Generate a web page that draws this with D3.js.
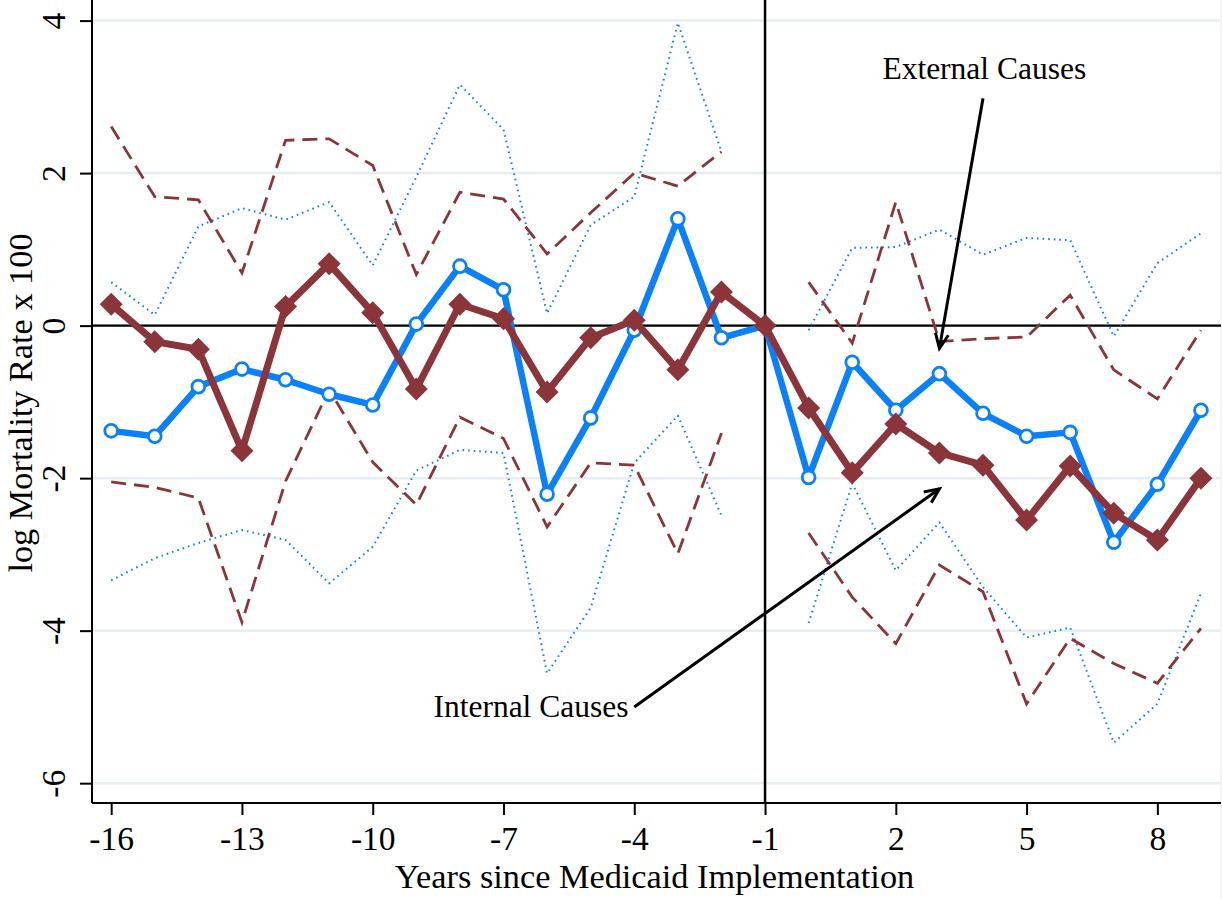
<!DOCTYPE html>
<html>
<head>
<meta charset="utf-8">
<script src="https://cdn.jsdelivr.net/npm/d3@7"></script>
<style>
  html, body { margin: 0; padding: 0; background: #ffffff; }
  svg { display: block; }
  text { font-family: "Liberation Serif", "Times New Roman", serif; fill: #000; }
</style>
</head>
<body>
<svg id="chart" width="1222" height="899"></svg>
<script>
// Event-study estimates by years since Medicaid implementation (reference year = -1)
const years = [-16, -15, -14, -13, -12, -11, -10, -9, -8, -7, -6, -5, -4, -3, -2, -1,
               0, 1, 2, 3, 4, 5, 6, 7, 8, 9];

// External causes: point estimates and 95% bounds (no bounds at the reference year)
const externalEst = [-1.38, -1.45, -0.80, -0.57, -0.71, -0.90, -1.04, 0.02, 0.78, 0.47, -2.21, -1.21, -0.06, 1.40, -0.16, 0,
                     -1.99, -0.48, -1.11, -0.63, -1.15, -1.45, -1.40, -2.84, -2.08, -1.11];
const externalHi = [0.57, 0.14, 1.30, 1.54, 1.39, 1.62, 0.79, 1.95, 3.16, 2.57, 0.16, 1.32, 1.69, 3.97, 2.28, null,
                    -0.06, 1.02, 1.03, 1.26, 0.93, 1.15, 1.12, -0.14, 0.82, 1.21];
const externalLo = [-3.34, -3.05, -2.85, -2.68, -2.81, -3.38, -2.90, -1.90, -1.63, -1.67, -4.56, -3.70, -1.80, -1.18, -2.49, null,
                    -3.90, -2.07, -3.21, -2.58, -3.43, -4.09, -3.96, -5.47, -4.96, -3.51];

// Internal causes: point estimates and 95% bounds
const internalEst = [0.28, -0.21, -0.31, -1.64, 0.25, 0.81, 0.17, -0.83, 0.28, 0.09, -0.87, -0.16, 0.07, -0.58, 0.44, 0,
                     -1.08, -1.93, -1.29, -1.67, -1.83, -2.55, -1.84, -2.46, -2.81, -2.00];
const internalHi = [2.61, 1.69, 1.65, 0.69, 2.43, 2.45, 2.10, 0.67, 1.75, 1.66, 0.94, 1.48, 2.00, 1.83, 2.28, null,
                    0.57, -0.23, 1.62, -0.21, -0.17, -0.15, 0.40, -0.58, -0.96, -0.06];
const internalLo = [-2.05, -2.12, -2.26, -3.89, -2.04, -0.84, -1.79, -2.35, -1.20, -1.48, -2.64, -1.80, -1.83, -2.99, -1.41, null,
                    -2.72, -3.56, -4.17, -3.14, -3.49, -4.96, -4.10, -4.43, -4.69, -3.97];

// Axis ticks and titles
const xTicks = [-16, -13, -10, -7, -4, -1, 2, 5, 8];
const yTicks = [-6, -4, -2, 0, 2, 4];
const xTitle = "Years since Medicaid Implementation";
const yTitle = "log Mortality Rate x 100";

// Annotations: label text, label anchor, arrow start and arrow target (data units)
const notes = [
  { text: "External Causes", at: [4.03, 3.234], from: [4.0, 2.98], to: [3.0, -0.30] },
  { text: "Internal Causes", at: [-6.37, -5.132], from: [-4.0, -5.0], to: [3.0, -2.14] }
];

const blue = "#0a80fa";
const maroon = "#8b353b";

const svg = d3.select("#chart");
const plot = { left: 92, right: 1221, top: 0, bottom: 803 };

const x = d3.scaleLinear().domain([-16.44, 9.46]).range([plot.left, plot.right]);
const y = d3.scaleLinear().domain([-6.26, 4.27]).range([plot.bottom, plot.top]);

// Horizontal grid lines
svg.append("g")
  .selectAll("line")
  .data(yTicks)
  .join("line")
  .attr("x1", plot.left).attr("x2", plot.right)
  .attr("y1", d => y(d)).attr("y2", d => y(d))
  .attr("stroke", "#e6eef1")
  .attr("stroke-width", 2.5);

// Light frame on the right edge
svg.append("line")
  .attr("x1", plot.right).attr("x2", plot.right)
  .attr("y1", 0).attr("y2", 899)
  .attr("stroke", "#eef2f4").attr("stroke-width", 1.5);

// Reference lines at zero and at the year before implementation
svg.append("line")
  .attr("x1", plot.left).attr("x2", plot.right)
  .attr("y1", y(0)).attr("y2", y(0))
  .attr("stroke", "#000").attr("stroke-width", 2.3);
svg.append("line")
  .attr("x1", x(-1)).attr("x2", x(-1))
  .attr("y1", plot.top).attr("y2", plot.bottom)
  .attr("stroke", "#000").attr("stroke-width", 2.5);

const band = vals => d3.line()
  .defined((d, i) => vals[i] !== null)
  .x((d, i) => x(years[i]))
  .y((d, i) => y(vals[i]))(years);

const path = vals => d3.line()
  .x((d, i) => x(years[i]))
  .y((d, i) => y(vals[i]))(years);

// Confidence bounds
[externalHi, externalLo].forEach(v => {
  svg.append("path")
    .attr("d", band(v))
    .attr("fill", "none")
    .attr("stroke", blue)
    .attr("stroke-width", 2)
    .attr("stroke-dasharray", "1.6,4")
    .attr("stroke-linejoin", "round");
});
[internalHi, internalLo].forEach(v => {
  svg.append("path")
    .attr("d", band(v))
    .attr("fill", "none")
    .attr("stroke", maroon)
    .attr("stroke-width", 2.8)
    .attr("stroke-dasharray", "15,8")
    .attr("stroke-linejoin", "miter");
});

// External causes: solid line with hollow circles
svg.append("path")
  .attr("d", path(externalEst))
  .attr("fill", "none")
  .attr("stroke", blue)
  .attr("stroke-width", 6.5)
  .attr("stroke-linejoin", "round");
svg.append("g")
  .selectAll("circle")
  .data(years)
  .join("circle")
  .attr("cx", d => x(d))
  .attr("cy", (d, i) => y(externalEst[i]))
  .attr("r", 6.4)
  .attr("fill", "#fff")
  .attr("stroke", blue)
  .attr("stroke-width", 2.8);

// Internal causes: solid line with filled diamonds
svg.append("path")
  .attr("d", path(internalEst))
  .attr("fill", "none")
  .attr("stroke", maroon)
  .attr("stroke-width", 7)
  .attr("stroke-linejoin", "round");
const dia = d3.symbol().type(d3.symbolSquare).size(265);
svg.append("g")
  .selectAll("path")
  .data(years)
  .join("path")
  .attr("d", dia)
  .attr("transform", (d, i) => `translate(${x(d)},${y(internalEst[i])}) rotate(45)`)
  .attr("fill", maroon);

// Axes
const xAxis = svg.append("g")
  .attr("transform", `translate(0,${plot.bottom})`)
  .call(d3.axisBottom(x).tickValues(xTicks).tickSize(12).tickSizeOuter(0).tickFormat(d3.format("d")));
xAxis.select(".domain").attr("stroke", "#000").attr("stroke-width", 2)
  .attr("d", `M${plot.left},0H${plot.right}`);
xAxis.selectAll(".tick line").attr("stroke", "#000").attr("stroke-width", 2);
xAxis.selectAll(".tick text")
  .attr("y", 47).attr("dy", 0)
  .style("font-family", "'Liberation Serif', serif")
  .style("font-size", "33.5px")
  .text(d => d < 0 ? "-" + Math.abs(d) : d);

const yAxis = svg.append("g")
  .attr("transform", `translate(${plot.left},0)`)
  .call(d3.axisLeft(y).tickValues(yTicks).tickSize(12).tickSizeOuter(0));
yAxis.select(".domain").attr("stroke", "#000").attr("stroke-width", 2)
  .attr("d", `M0,${plot.top}V${plot.bottom}`);
yAxis.selectAll(".tick line").attr("stroke", "#000").attr("stroke-width", 2);
yAxis.selectAll(".tick text")
  .attr("x", null).attr("dy", null)
  .attr("transform", "translate(-27,0) rotate(-90)")
  .attr("text-anchor", "middle")
  .style("font-family", "'Liberation Serif', serif")
  .style("font-size", "33.5px")
  .text(d => d < 0 ? "-" + Math.abs(d) : d);

// Axis titles
svg.append("text")
  .attr("x", 654.5)
  .attr("y", 888)
  .attr("text-anchor", "middle")
  .style("font-size", "34.3px")
  .text(xTitle);
svg.append("text")
  .attr("transform", "translate(32,403) rotate(-90)")
  .attr("text-anchor", "middle")
  .style("font-size", "34.3px")
  .text(yTitle);

// Annotations with arrows
const arrowHead = (x0, y0, x1, y1, len, ang) => {
  const a = Math.atan2(y1 - y0, x1 - x0);
  const p1 = [x1 - len * Math.cos(a - ang), y1 - len * Math.sin(a - ang)];
  const p2 = [x1 - len * Math.cos(a + ang), y1 - len * Math.sin(a + ang)];
  return `M${p1[0]},${p1[1]}L${x1},${y1}L${p2[0]},${p2[1]}`;
};
notes.forEach(n => {
  svg.append("text")
    .attr("x", x(n.at[0]))
    .attr("y", y(n.at[1]))
    .attr("text-anchor", "middle")
    .style("font-size", "31.5px")
    .text(n.text);
  const x0 = x(n.from[0]), y0 = y(n.from[1]), x1 = x(n.to[0]), y1 = y(n.to[1]);
  svg.append("line")
    .attr("x1", x0).attr("y1", y0).attr("x2", x1).attr("y2", y1)
    .attr("stroke", "#000").attr("stroke-width", 3);
  svg.append("path")
    .attr("d", arrowHead(x0, y0, x1, y1, 16, 0.42))
    .attr("fill", "none")
    .attr("stroke", "#000")
    .attr("stroke-width", 3);
});
</script>
</body>
</html>
